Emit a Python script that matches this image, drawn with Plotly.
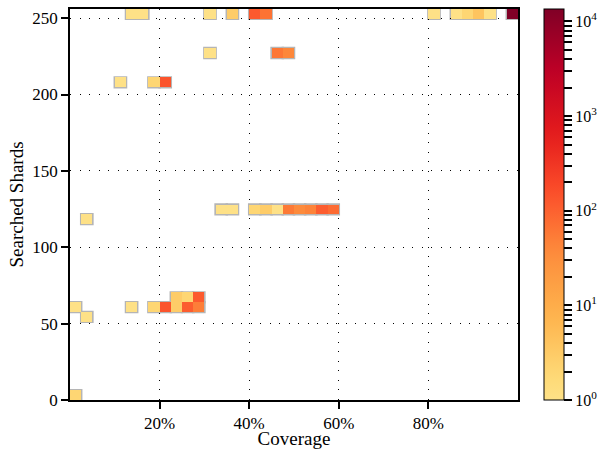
import numpy as np
import plotly.graph_objects as go

# ---- data: 2D histogram cells (coverage bin index, shard bin index, count) ----
n_xbins = 40
n_ybins = 40
cov_bin_width = 0.025
shard_bin_width = 6.4

cell_cov_idx = [5, 6, 12, 14, 16, 17, 32, 34, 35, 36, 37, 39,
                12, 18, 19,
                4, 7, 8,
                13, 14, 16, 17, 18, 19, 20, 21, 22, 23,
                1,
                9, 10, 11,
                0, 5, 7, 8, 9, 10, 11,
                1,
                0]
cell_shard_idx = [39, 39, 39, 39, 39, 39, 39, 39, 39, 39, 39, 39,
                  35, 35, 35,
                  32, 32, 32,
                  19, 19, 19, 19, 19, 19, 19, 19, 19, 19,
                  18,
                  10, 10, 10,
                  9, 9, 9, 9, 9, 9, 9,
                  8,
                  0]
cell_counts = [1, 1, 1, 3, 120, 65, 1, 1, 2, 4, 1, 13500,
               1, 60, 40,
               1, 2, 140,
               1, 1, 2, 3, 1, 55, 35, 45, 110, 80,
               1,
               3, 2, 120,
               1, 1, 2, 140, 3, 110, 50,
               1,
               2]

x_tick_vals = [0.2, 0.4, 0.6, 0.8]
y_tick_vals = [0, 50, 100, 150, 200, 250]
cbar_decades = [0, 1, 2, 3, 4]

# ---- build grid ----
z = np.full((n_ybins, n_xbins), np.nan)
for i, j, c in zip(cell_cov_idx, cell_shard_idx, cell_counts):
    z[j, i] = np.log10(c)

# truncated YlOrRd
ylorrd = ["#ffffcc", "#ffeda0", "#fed976", "#feb24c", "#fd8d3c",
          "#fc4e2a", "#e31a1c", "#bd0026", "#800026"]
def hex2rgb(h):
    return tuple(int(h[k:k+2], 16) for k in (1, 3, 5))
def sample(t):
    p = t * (len(ylorrd) - 1)
    k = min(int(p), len(ylorrd) - 2)
    f = p - k
    a, b = hex2rgb(ylorrd[k]), hex2rgb(ylorrd[k + 1])
    return "rgb(%d,%d,%d)" % tuple(round(a[m] + (b[m] - a[m]) * f) for m in range(3))
start = 0.2
colorscale = [[s, sample(start + (1 - start) * s)] for s in np.linspace(0, 1, 21)]

zmax = np.log10(13500)
tickvals = []
ticktext = []
for d in cbar_decades:
    for m in range(1, 10):
        v = d + np.log10(m)
        if v <= zmax + 1e-9:
            tickvals.append(v)
            ticktext.append("10<sup>%d</sup>" % d if m == 1 else " ")

fig = go.Figure()
fig.add_trace(go.Heatmap(
    z=z,
    x0=cov_bin_width / 2, dx=cov_bin_width,
    y0=shard_bin_width / 2, dy=shard_bin_width,
    colorscale=colorscale, zmin=0, zmax=zmax,
    hoverongaps=False,
    colorbar=dict(
        tickvals=tickvals, ticktext=ticktext,
        ticks="outside", ticklen=8, tickwidth=1.5, tickcolor="black",
        outlinecolor="black", outlinewidth=1,
        thickness=20, len=1, lenmode="fraction", y=0, yanchor="bottom",
        ypad=0, x=1.058, xanchor="left", xpad=0,
        tickfont=dict(family="Liberation Serif", size=16, color="black"),
    ),
))

# gray outlines around occupied cells (drawn below the heatmap)
shapes = []
for i, j in zip(cell_cov_idx, cell_shard_idx):
    shapes.append(dict(
        type="rect", layer="below", xref="x", yref="y",
        x0=i * cov_bin_width, x1=(i + 1) * cov_bin_width,
        y0=j * shard_bin_width, y1=(j + 1) * shard_bin_width,
        line=dict(color="#b5b5b5", width=2.5), fillcolor="rgba(0,0,0,0)",
    ))

font = dict(family="Liberation Serif", size=17, color="black")
fig.update_layout(
    width=605, height=449,
    margin=dict(l=70, r=87, t=9, b=49, autoexpand=False),
    plot_bgcolor="white", paper_bgcolor="white",
    font=font,
    shapes=shapes,
    xaxis=dict(
        range=[0, 1], tickvals=x_tick_vals, tickformat=".0%",
        showgrid=True, gridcolor="black", gridwidth=1, griddash="1px,8.5px",
        showline=True, linecolor="black", linewidth=1.5, mirror=True,
        ticks="outside", ticklen=7, tickwidth=2, tickcolor="black",
        zeroline=False, automargin=False,
        title=dict(text="Coverage", font=dict(family="Liberation Serif", size=19), standoff=0),
    ),
    yaxis=dict(
        range=[0, 256], tickvals=y_tick_vals,
        showgrid=True, gridcolor="black", gridwidth=1, griddash="1px,8.5px",
        showline=True, linecolor="black", linewidth=1.5, mirror=True,
        ticks="outside", ticklen=7, tickwidth=2, tickcolor="black",
        zeroline=False, automargin=False,
        title=dict(text="Searched Shards", font=dict(family="Liberation Serif", size=19), standoff=4),
    ),
)

fig.write_html("out.html", config={"displayModeBar": False},
               post_script="document.body.style.margin='0';")
